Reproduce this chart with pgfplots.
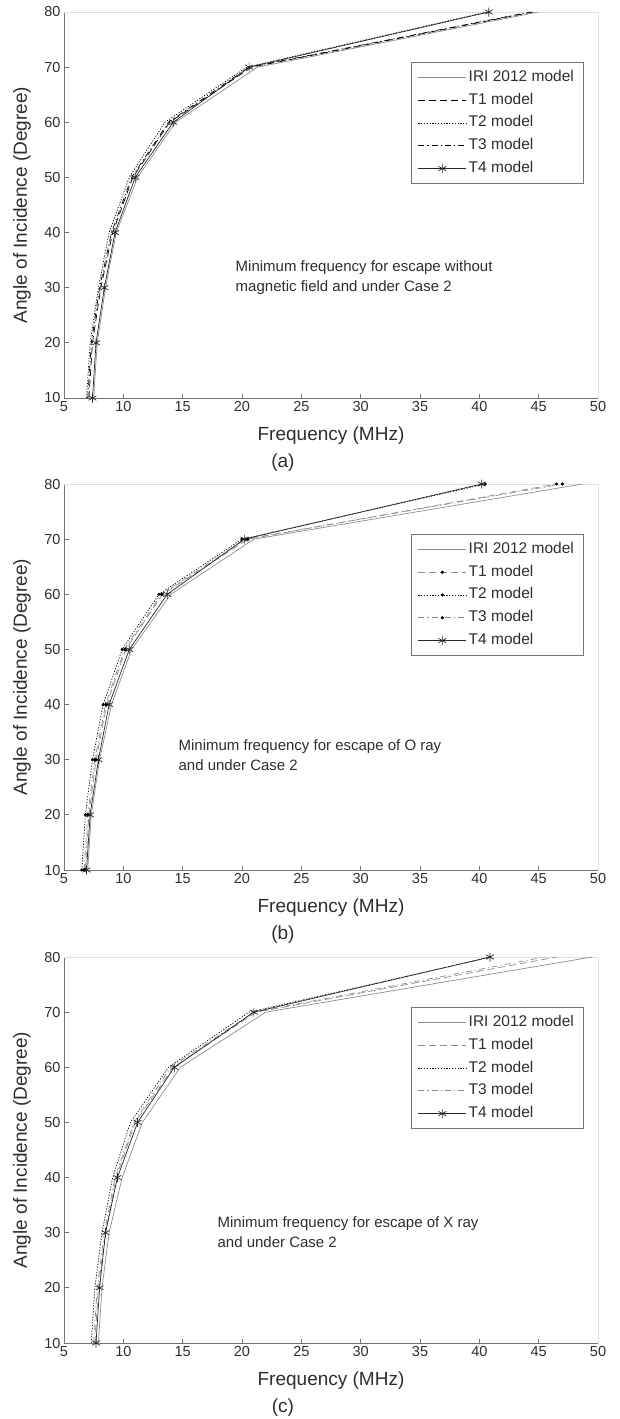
\documentclass[border=0pt]{standalone}
\usepackage{pgfplots}
\pgfplotsset{compat=1.18}
\usepackage{pgfplotstable}
\usepackage{fontspec}
\setmainfont{Liberation Sans}

\definecolor{axgray}{gray}{0.45}
\definecolor{txtgray}{gray}{0.18}
\definecolor{irigray}{gray}{0.55}
\definecolor{tgray}{gray}{0.55}

% columns: angle, IRI 2012, T1, T2, T3, T4 (frequency in MHz)
\pgfplotstableread{
ang iri t1 t2 t3 t4
10 7.5 7.1 6.9 7.0 7.4
20 7.8 7.4 7.2 7.3 7.7
30 8.5 8.1 7.9 8.0 8.4
40 9.4 9.1 8.8 9.0 9.3
50 11.2 10.8 10.5 10.7 11.0
60 14.4 13.9 13.5 13.8 14.2
70 21.3 20.8 20.4 20.6 20.6
80 45.0 44.5 40.6 44.3 40.8
}\dataA

\pgfplotstableread{
ang iri t1 t2 t3 t4
10 7.0 6.8 6.5 6.7 6.9
20 7.3 7.1 6.8 7.0 7.2
30 8.0 7.7 7.4 7.6 7.9
40 9.0 8.6 8.3 8.5 8.8
50 10.7 10.2 9.9 10.1 10.5
60 14.0 13.3 13.0 13.2 13.7
70 21.0 20.5 20.0 20.3 20.2
80 48.7 46.5 40.5 47.0 40.2
}\dataB

\pgfplotstableread{
ang iri t1 t2 t3 t4
10 7.9 7.6 7.3 7.5 7.7
20 8.2 7.9 7.6 7.8 8.0
30 8.8 8.5 8.2 8.4 8.5
40 9.9 9.4 9.1 9.3 9.5
50 11.6 11.0 10.6 10.9 11.2
60 14.8 14.2 13.8 14.0 14.3
70 22.0 21.2 20.6 21.0 21.0
80 49.5 46.5 41.0 45.5 40.9
}\dataC

\tikzset{
 topframe/.style={gray!25, line width=0.8pt},
 iri/.style={irigray, line width=0.7pt, mark=none},
 tA/.style={line width=0.7pt, dash pattern=on 7pt off 4pt, mark=none},
 tB/.style={line width=0.7pt, dash pattern=on 1.2pt off 1.6pt, mark=none},
 tC/.style={line width=0.7pt, dash pattern=on 6pt off 3pt on 1.2pt off 3pt, mark=none},
 tD/.style={black!85, line width=0.7pt, mark=asterisk, mark size=4.5pt, mark options={solid}},
 dotmark/.style={mark=*, mark size=1.2pt, mark options={solid, fill=black, draw=black}},
 annot/.style={anchor=west, align=left, font=\fontsize{15}{20}\selectfont, text=txtgray},
 caption/.style={font=\fontsize{19}{21}\selectfont, text=txtgray},
}

\pgfplotsset{
 panel/.style={
  scale only axis, width=534pt, height=386pt,
  xmin=5, xmax=50, ymin=10, ymax=80,
  xtick={5,10,...,50}, ytick={10,20,...,80},
  axis x line*=bottom, axis y line*=left,
  axis line style={axgray,-,line width=0.8pt},
  tick align=inside, major tick length=4.5pt,
  tick style={axgray,line width=0.8pt},
  /pgf/number format/assume math mode=true,
  ticklabel style={font=\fontsize{14.5}{16}\selectfont, text=txtgray},
  label style={font=\fontsize{19}{21}\selectfont, text=txtgray},
  xlabel={Frequency (MHz)}, ylabel={Angle of Incidence (Degree)},
  xlabel style={at={(axis description cs:0.5,-0.0984)},anchor=center},
  ylabel style={at={(axis description cs:-0.0787,0.5)},anchor=center},
  clip=false,
  legend cell align=left,
  legend style={at={(axis description cs:0.972,0.870)}, anchor=north east,
    draw=axgray, fill=white, font=\fontsize{15.5}{17}\selectfont, text=txtgray,
    inner xsep=7pt, inner ysep=6pt, row sep=4.8pt,
    nodes={inner sep=2pt, text height=11pt, text depth=3pt}},
  legend image code/.code={\draw[mark repeat=2,mark phase=2,#1] plot coordinates {(0pt,0pt) (24pt,0pt) (48pt,0pt)};},
 },
}

\begin{document}
\begin{tikzpicture}
% ---------- (a) ----------
\begin{axis}[panel, at={(64pt,-398pt)}, anchor=south west]
\draw[topframe] (rel axis cs:0,1) -- (rel axis cs:1,1) -- (rel axis cs:1,0);
\addplot[iri] table[x=iri,y=ang] {\dataA};
\addplot[tA, black] table[x=t1,y=ang] {\dataA};
\addplot[tB, black] table[x=t2,y=ang] {\dataA};
\addplot[tC, black] table[x=t3,y=ang] {\dataA};
\addplot[tD] table[x=t4,y=ang] {\dataA};
\legend{IRI 2012 model, T1 model, T2 model, T3 model, T4 model}
\node[annot] at (rel axis cs:0.315,0.311) {Minimum frequency for escape without\\magnetic field and under Case 2};
\node[caption] at (rel axis cs:0.410,-0.168) {(a)};
\end{axis}
% ---------- (b) ----------
\begin{axis}[panel, at={(64pt,-870pt)}, anchor=south west]
\draw[topframe] (rel axis cs:0,1) -- (rel axis cs:1,1) -- (rel axis cs:1,0);
\addplot[iri] table[x=iri,y=ang] {\dataB};
\addplot[tA, tgray, dotmark] table[x=t1,y=ang] {\dataB};
\addplot[tB, black, dotmark] table[x=t2,y=ang] {\dataB};
\addplot[tC, tgray, dotmark] table[x=t3,y=ang] {\dataB};
\addplot[tD] table[x=t4,y=ang] {\dataB};
\legend{IRI 2012 model, T1 model, T2 model, T3 model, T4 model}
\node[annot] at (rel axis cs:0.208,0.298) {Minimum frequency for escape of O ray\\and under Case 2};
\node[caption] at (rel axis cs:0.410,-0.168) {(b)};
\end{axis}
% ---------- (c) ----------
\begin{axis}[panel, at={(64pt,-1343pt)}, anchor=south west]
\draw[topframe] (rel axis cs:0,1) -- (rel axis cs:1,1) -- (rel axis cs:1,0);
\addplot[iri] table[x=iri,y=ang] {\dataC};
\addplot[tA, tgray] table[x=t1,y=ang] {\dataC};
\addplot[tB, black] table[x=t2,y=ang] {\dataC};
\addplot[tC, tgray] table[x=t3,y=ang] {\dataC};
\addplot[tD] table[x=t4,y=ang] {\dataC};
\legend{IRI 2012 model, T1 model, T2 model, T3 model, T4 model}
\node[annot] at (rel axis cs:0.281,0.288) {Minimum frequency for escape of X ray\\and under Case 2};
\node[caption] at (rel axis cs:0.410,-0.168) {(c)};
\end{axis}
\pgfresetboundingbox
\path[use as bounding box] (0pt,0pt) rectangle (620pt,-1419pt);
\end{tikzpicture}
\end{document}
